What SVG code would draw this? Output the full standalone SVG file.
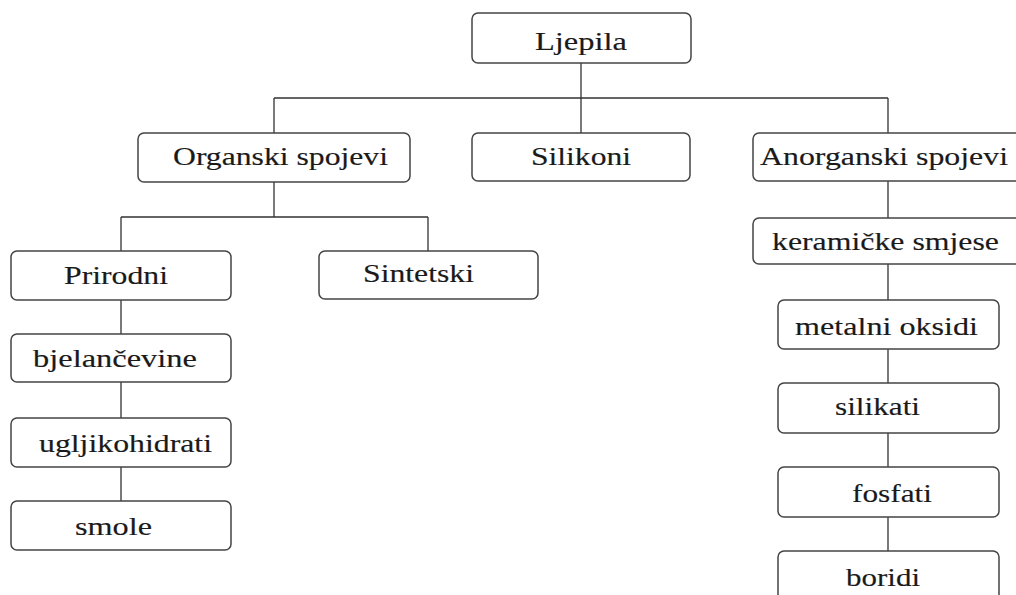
<svg xmlns="http://www.w3.org/2000/svg" width="1016" height="595" viewBox="0 0 1016 595">
<style>
.box{fill:#fff;stroke:#444;stroke-width:1.5}
.lbl{font-size:25px;fill:#1a1a1a;stroke:#1a1a1a;stroke-width:0.15}
.con{fill:none;stroke:#333;stroke-width:1.3}
</style>
<rect width="1016" height="595" fill="#fff"/>
<g id="connectors" class="con">
<path d="M581 63V98M274 98H888M274 98V133M581 98V133M888 98V133"/>
<path d="M274 182V217M121 217H428M121 217V251M428 217V251"/>
<path d="M121 300V334M121 382V418M121 467V501"/>
<path d="M888 181V218M888 264V300M888 349V383M888 433V467M888 517V551"/>
</g>
<g font-family="Liberation Serif, DejaVu Serif, Times New Roman, serif">
<g id="n-ljepila"><rect class="box" x="472" y="13" width="219" height="50" rx="6"/><text class="lbl" x="535" y="50" textLength="92" lengthAdjust="spacingAndGlyphs">Ljepila</text></g>
<g id="n-organski"><rect class="box" x="138" y="133" width="272" height="49" rx="6"/><text class="lbl" x="173" y="165" textLength="215" lengthAdjust="spacingAndGlyphs">Organski spojevi</text></g>
<g id="n-silikoni"><rect class="box" x="472" y="133" width="218" height="48" rx="6"/><text class="lbl" x="531" y="165" textLength="100" lengthAdjust="spacingAndGlyphs">Silikoni</text></g>
<g id="n-anorganski"><rect class="box" x="753" y="133" width="270" height="48" rx="6"/><text class="lbl" x="760" y="165" textLength="248" lengthAdjust="spacingAndGlyphs">Anorganski spojevi</text></g>
<g id="n-keramicke"><rect class="box" x="753" y="218" width="270" height="46" rx="6"/><text class="lbl" x="772" y="250" textLength="227" lengthAdjust="spacingAndGlyphs">keramičke smjese</text></g>
<g id="n-prirodni"><rect class="box" x="11" y="251" width="220" height="49" rx="6"/><text class="lbl" x="64" y="284" textLength="104" lengthAdjust="spacingAndGlyphs">Prirodni</text></g>
<g id="n-sintetski"><rect class="box" x="319" y="251" width="219" height="48" rx="6"/><text class="lbl" x="363" y="282" textLength="111" lengthAdjust="spacingAndGlyphs">Sintetski</text></g>
<g id="n-bjelancevine"><rect class="box" x="11" y="334" width="220" height="48" rx="6"/><text class="lbl" x="33" y="367" textLength="164" lengthAdjust="spacingAndGlyphs">bjelančevine</text></g>
<g id="n-ugljikohidrati"><rect class="box" x="11" y="418" width="220" height="49" rx="6"/><text class="lbl" x="39" y="452" textLength="173" lengthAdjust="spacingAndGlyphs">ugljikohidrati</text></g>
<g id="n-smole"><rect class="box" x="11" y="501" width="220" height="49" rx="6"/><text class="lbl" x="75" y="535" textLength="77" lengthAdjust="spacingAndGlyphs">smole</text></g>
<g id="n-metalni"><rect class="box" x="778" y="300" width="221" height="49" rx="6"/><text class="lbl" x="795" y="335" textLength="183" lengthAdjust="spacingAndGlyphs">metalni oksidi</text></g>
<g id="n-silikati"><rect class="box" x="778" y="383" width="221" height="50" rx="6"/><text class="lbl" x="835" y="415" textLength="85" lengthAdjust="spacingAndGlyphs">silikati</text></g>
<g id="n-fosfati"><rect class="box" x="778" y="467" width="221" height="50" rx="6"/><text class="lbl" x="852" y="502" textLength="80" lengthAdjust="spacingAndGlyphs">fosfati</text></g>
<g id="n-boridi"><rect class="box" x="778" y="551" width="221" height="50" rx="6"/><text class="lbl" x="846" y="586" textLength="74" lengthAdjust="spacingAndGlyphs">boridi</text></g>
</g>
</svg>
